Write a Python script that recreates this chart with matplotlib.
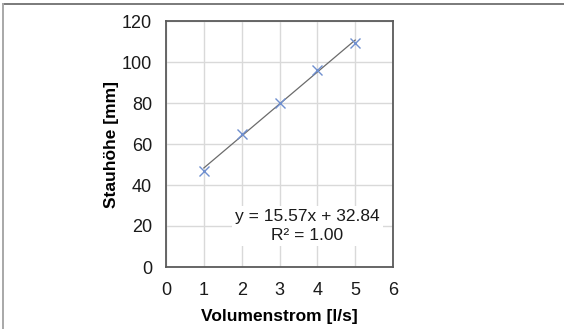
import numpy as np
import matplotlib
matplotlib.use("Agg")
import matplotlib.pyplot as plt
from matplotlib.lines import Line2D

# Messwerte
volumenstrom = [1, 2, 3, 4, 5]
stauhoehe = [47, 65, 80, 96, 109.5]
x_ticks = [0, 1, 2, 3, 4, 5, 6]
y_ticks = [0, 20, 40, 60, 80, 100, 120]
fit_text = "y = 15.57x + 32.84\nR\u00b2 = 1.00"

plt.rcParams['font.family'] = ['Liberation Sans', 'DejaVu Sans']

W, H = 564, 329
fig = plt.figure(figsize=(W / 100, H / 100), dpi=100)
ax = fig.add_axes([166 / W, 1 - 267 / H, (393 - 166) / W, (267 - 21) / H])

# trendline
k, d = np.polyfit(volumenstrom, stauhoehe, 1)
xs = np.array([volumenstrom[0], volumenstrom[-1]])
ax.plot(xs, k * xs + d, color='#6b6b6b', lw=0.9, zorder=3)
ax.plot(volumenstrom, stauhoehe, 'x', color='#6f8fcf', ms=6.5, mew=1.0, zorder=4)

ax.set_xlim(0, 6)
ax.set_ylim(0, 120)
ax.set_xticks(x_ticks)
ax.set_yticks(y_ticks)
ax.grid(True, color='#d9d9d9', lw=1.0, zorder=0)
ax.set_axisbelow(True)
ax.tick_params(length=0, labelsize=13, colors='#1a1a1a')
ax.tick_params(axis='x', pad=11)
ax.tick_params(axis='y', pad=10)
for s in ax.spines.values():
    s.set_color('#5a5a5a')
    s.set_linewidth(1.3)

ax.set_xlabel('Volumenstrom [l/s]', fontsize=12.5, fontweight='bold', labelpad=7)
ax.set_ylabel('Stauh\u00f6he [mm]', fontsize=12.5, fontweight='bold', labelpad=2)

ax.text(3.74, 20, fit_text, ha='center', va='center', fontsize=12.5,
        linespacing=1.3, color='#1a1a1a', zorder=5,
        bbox=dict(facecolor='white', edgecolor='none', pad=2))

# Rahmen
fig.add_artist(Line2D([2.5 / W, 1], [1 - 4 / H, 1 - 4 / H], color='#7a7a7a', lw=1.4))
fig.add_artist(Line2D([2.5 / W, 2.5 / W], [0, 1 - 4 / H], color='#a8a8a8', lw=1.4))

fig.savefig('out.png', dpi=100)
